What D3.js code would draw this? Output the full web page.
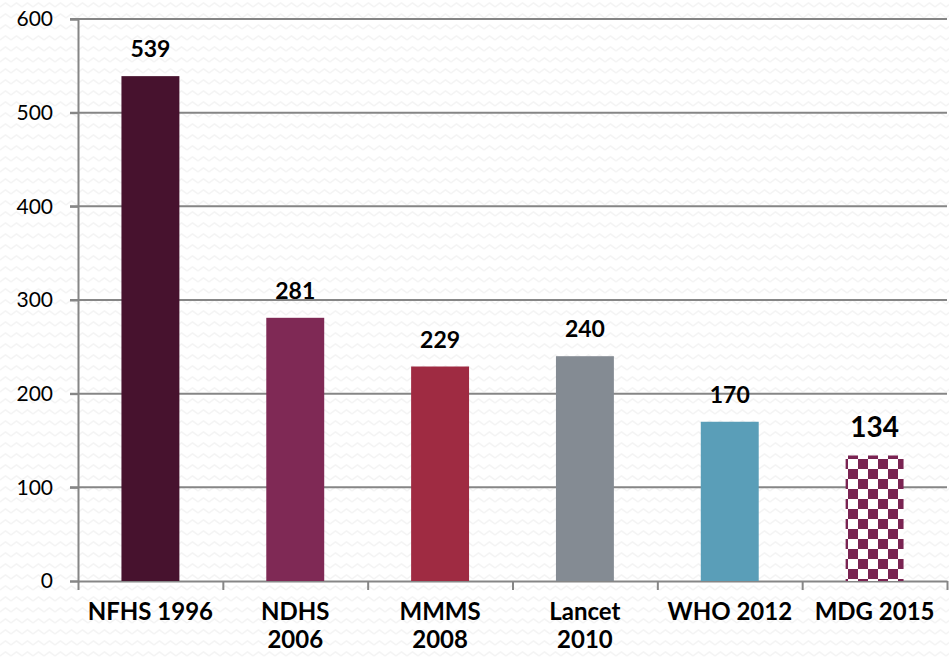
<!DOCTYPE html>
<html>
<head>
<meta charset="utf-8">
<script src="https://cdnjs.cloudflare.com/ajax/libs/d3/7.8.5/d3.min.js"></script>
<style>
  body { margin: 0; background: #fff; }
  svg text { font-family: "Lato", "DejaVu Sans", sans-serif; }
</style>
</head>
<body>
<div id="chart"></div>
<script>
// DATA
var categories = [["NFHS 1996"], ["NDHS", "2006"], ["MMMS", "2008"], ["Lancet", "2010"], ["WHO 2012"], ["MDG 2015"]];
var values = [539, 281, 229, 240, 170, 134];
var barColors = ["#47122e", "#7f2955", "#9f2b42", "#848b93", "#5a9eb8", "url(#checker)"];
var yTicks = [0, 100, 200, 300, 400, 500, 600];

(function () {
  var width = 949, height = 657,
    margin = { top: 19, right: 2, bottom: 76, left: 78 };

  var svg = d3.select("#chart").append("svg")
    .attr("width", width)
    .attr("height", height);

  var defs = svg.append("defs");

  // faint zigzag background
  var zz = defs.append("pattern")
    .attr("id", "zigzag")
    .attr("patternUnits", "userSpaceOnUse")
    .attr("width", 11).attr("height", 11);
  zz.append("rect").attr("width", 11).attr("height", 11).attr("fill", "#fff");
  zz.append("path")
    .attr("d", "M0,7 L5.5,3 L11,7")
    .attr("fill", "none")
    .attr("stroke", "#f4f4f4")
    .attr("stroke-width", 1.5);

  // checkerboard for last bar
  var ck = defs.append("pattern")
    .attr("id", "checker")
    .attr("patternUnits", "userSpaceOnUse")
    .attr("width", 20).attr("height", 20);
  ck.append("rect").attr("width", 20).attr("height", 20).attr("fill", "#fff");
  ck.append("rect").attr("width", 10).attr("height", 10).attr("fill", "#7a2352");
  ck.append("rect").attr("x", 10).attr("y", 10).attr("width", 10).attr("height", 10).attr("fill", "#7a2352");

  svg.append("rect")
    .attr("width", width).attr("height", height)
    .attr("fill", "url(#zigzag)");

  var w = width - margin.left - margin.right,
    h = height - margin.top - margin.bottom;

  var x = d3.scaleBand()
    .domain(d3.range(categories.length))
    .range([0, w])
    .paddingInner(0.6)
    .paddingOuter(0.3);

  var x0 = d3.scaleLinear().domain([0, categories.length]).range([0, w]);

  var y = d3.scaleLinear().domain([0, 600]).range([h, 0]);

  var g = svg.append("g")
    .attr("transform", "translate(" + margin.left + "," + margin.top + ")");

  // gridlines
  g.append("g")
    .selectAll("line")
    .data(yTicks.filter(function (d) { return d > 0; }))
    .enter().append("line")
    .attr("x1", -8).attr("x2", w)
    .attr("y1", function (d) { return y(d); })
    .attr("y2", function (d) { return y(d); })
    .attr("stroke", "#868686")
    .attr("stroke-width", 2);

  // y axis
  var yAxis = g.append("g")
    .call(d3.axisLeft(y).tickValues(yTicks).tickSize(8).tickPadding(17));
  yAxis.select(".domain").attr("stroke", "#868686").attr("stroke-width", 2);
  yAxis.selectAll(".tick line").attr("stroke", "#868686").attr("stroke-width", 2);
  yAxis.selectAll(".tick text")
    .attr("font-size", 21)
    .attr("fill", "#000")
    .style("font-family", "Lato, sans-serif");

  // x axis
  var xAxis = g.append("g")
    .attr("transform", "translate(0," + h + ")")
    .call(d3.axisBottom(x0).tickValues(d3.range(categories.length + 1)).tickSize(9).tickSizeOuter(0).tickFormat(""));
  xAxis.select(".domain").attr("stroke", "#868686").attr("stroke-width", 2);
  xAxis.selectAll(".tick line").attr("stroke", "#868686").attr("stroke-width", 2);

  // bars
  g.selectAll(".bar")
    .data(values)
    .enter().append("rect")
    .attr("class", "bar")
    .attr("x", function (d, i) { return x(i); })
    .attr("y", function (d) { return y(d); })
    .attr("width", x.bandwidth())
    .attr("height", function (d) { return h - y(d); })
    .attr("fill", function (d, i) { return barColors[i]; });

  // value labels
  g.selectAll(".val")
    .data(values)
    .enter().append("text")
    .attr("class", "val")
    .attr("x", function (d, i) { return x(i) + x.bandwidth() / 2; })
    .attr("y", function (d, i) { return y(d) - (i === 5 ? 18 : 19); })
    .attr("text-anchor", "middle")
    .attr("font-weight", "bold")
    .attr("font-size", function (d, i) { return i === 5 ? 28 : 23; })
    .attr("fill", "#000")
    .text(function (d) { return d; });

  // category labels
  var cl = g.selectAll(".cat")
    .data(categories)
    .enter().append("text")
    .attr("class", "cat")
    .attr("x", function (d, i) { return x(i) + x.bandwidth() / 2; })
    .attr("y", h + 39)
    .attr("text-anchor", "middle")
    .attr("font-weight", "bold")
    .attr("font-size", 24)
    .attr("fill", "#000");
  cl.each(function (d) {
    var t = d3.select(this);
    d.forEach(function (line, k) {
      t.append("tspan")
        .attr("x", t.attr("x"))
        .attr("dy", k === 0 ? 0 : 28)
        .text(line);
    });
  });
})();
</script>
</body>
</html>
